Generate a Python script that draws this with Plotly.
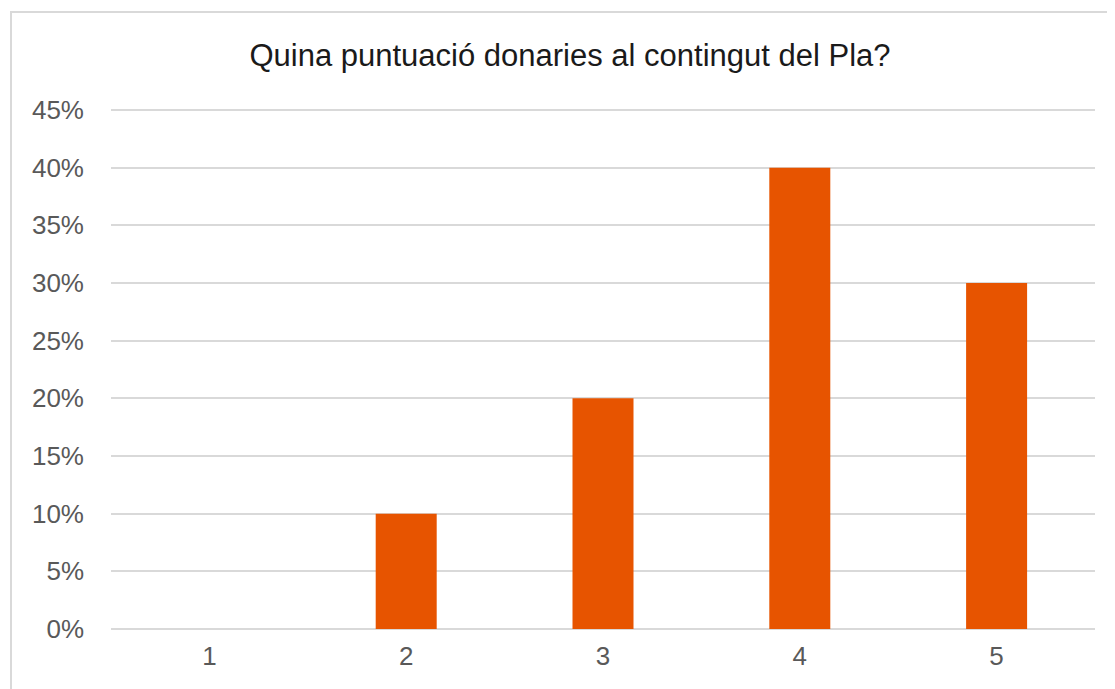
import plotly.graph_objects as go

categories = ["1", "2", "3", "4", "5"]
values = [0.0, 0.10, 0.20, 0.40, 0.30]
y_ticks = [0, 0.05, 0.10, 0.15, 0.20, 0.25, 0.30, 0.35, 0.40, 0.45]
title_text = "Quina puntuació donaries al contingut del Pla?"

# page body has an 8px margin; figure is drawn at (8, 8)
OFF = 8
W, H = 1115 - OFF, 689 - OFF
L, R, T, B = 111 - OFF, 1115 - 1095, 108 - OFF, 689 - 629
pw = W - L - R
ph = H - T - B
y_top = 0.45 * ph / (629 - 110)

def px_x(px):
    return (px - OFF - L) / pw

def px_y(py):
    return (H - B - (py - OFF)) / ph

fig = go.Figure(go.Bar(
    x=categories, y=values,
    marker=dict(color="#E75400", line=dict(width=0)),
))

fig.update_layout(
    width=W, height=H,
    margin=dict(l=L, r=R, t=T, b=B),
    paper_bgcolor="white", plot_bgcolor="white",
    bargap=0.69,
    showlegend=False,
    font=dict(family="Liberation Sans, Arial, sans-serif", color="#595959"),
    title=dict(text=title_text, x=(570 - OFF) / W, xref="container", xanchor="center",
               y=1 - (55 - OFF) / H, yref="container", yanchor="middle",
               font=dict(size=31, color="#1a1a1a", family="Liberation Sans, Arial, sans-serif")),
    xaxis=dict(showgrid=False, showline=False, zeroline=False, ticks="",
               tickfont=dict(size=26, color="#595959"), ticklabelstandoff=9),
    yaxis=dict(range=[0, y_top], tickvals=y_ticks, tickformat=".0%",
               showgrid=True, gridcolor="#D9D9D9", gridwidth=1.5,
               zeroline=True, zerolinecolor="#D9D9D9", zerolinewidth=1.5,
               showline=False, ticks="",
               tickfont=dict(size=26, color="#595959"), ticklabelstandoff=26),
    shapes=[dict(type="rect", xref="paper", yref="paper",
                 x0=px_x(11), x1=px_x(1130), y0=px_y(700), y1=px_y(12),
                 line=dict(color="#D9D9D9", width=2), fillcolor="rgba(0,0,0,0)",
                 layer="below")],
)

fig.write_html("out.html")
